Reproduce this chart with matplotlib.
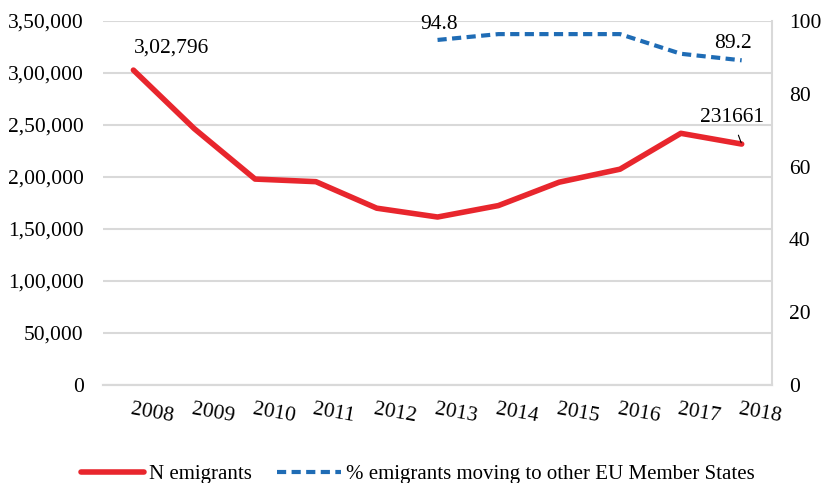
import matplotlib.pyplot as plt
import matplotlib.transforms as mtransforms
from matplotlib.ticker import FuncFormatter, MultipleLocator

plt.rcParams['font.family'] = ['Liberation Serif', 'DejaVu Serif']

years = ['2008', '2009', '2010', '2011', '2012', '2013', '2014', '2015', '2016', '2017', '2018']
emigrants = [302796, 246500, 198000, 195500, 170000, 161500, 172500, 195000, 207500, 242000, 231661]
eu_years = ['2013', '2014', '2015', '2016', '2017', '2018']
eu_share = [94.8, 96.4, 96.4, 96.4, 91.0, 89.2]

red = '#E8262D'
blue = '#1F6CB5'
grey = '#D9D9D9'
fs = 15.5


def indian(v, pos=None):
    # lakh style grouping: 3,50,000
    s = str(int(round(v)))
    if len(s) <= 3:
        return s
    head, tail = s[:-3], s[-3:]
    parts = []
    while len(head) > 2:
        parts.insert(0, head[-2:])
        head = head[:-2]
    if head:
        parts.insert(0, head)
    return ','.join(parts) + ',' + tail


fig = plt.figure(figsize=(8.24, 4.83), dpi=100)
ax = fig.add_axes([0.125, 0.203, 0.812, 0.7535])
ax2 = ax.twinx()

x = list(range(len(years)))
xe = [years.index(y) for y in eu_years]

ax.plot(x, emigrants, color=red, lw=4, solid_capstyle='round', label='N emigrants', zorder=3)
ax2.plot(xe, eu_share, color=blue, lw=3, ls=(0, (2.2, 1.3)), label='% emigrants moving to other EU Member States')

ax.set_xlim(-0.5, len(years) - 0.5)
ax.set_ylim(0, 350000)
ax.yaxis.set_major_locator(MultipleLocator(50000))
ax.yaxis.set_major_formatter(FuncFormatter(indian))
ax2.set_ylim(0, 100)
ax2.yaxis.set_major_locator(MultipleLocator(20))

ax.grid(axis='y', color=grey, lw=1.5)
ax.set_axisbelow(True)
for a in (ax, ax2):
    for s in ('top', 'left', 'right'):
        a.spines[s].set_visible(False)
    a.spines['bottom'].set_color(grey)
    a.spines['bottom'].set_linewidth(1.5)
ax2.spines['right'].set_visible(True)
ax2.spines['right'].set_color(grey)
ax2.spines['right'].set_linewidth(1.5)

ax.tick_params(axis='y', length=0, labelsize=fs, pad=14)
ax2.tick_params(axis='y', length=0, labelsize=fs, pad=12)
ax.set_xticks(x)
ax.set_xticklabels(years, rotation=-10, fontsize=fs)
ax.tick_params(axis='x', length=0, pad=11)
offset = mtransforms.ScaledTranslation(-0.01, 0, fig.dpi_scale_trans)
for t in ax.get_xticklabels():
    t.set_ha('left')
    t.set_rotation_mode('anchor')
    t.set_transform(t.get_transform() + offset)

ax.annotate(indian(emigrants[0]), (x[0], emigrants[0]), xytext=(0, 16), textcoords='offset points',
            ha='left', va='center', fontsize=fs)
ax.annotate(str(emigrants[-1]), (x[-1], emigrants[-1]), xytext=(-7, 19), textcoords='offset points',
            ha='center', va='center', fontsize=fs,
            arrowprops=dict(arrowstyle='-', color='black', lw=0.8, shrinkA=4, shrinkB=1))
ax2.annotate(f'{eu_share[0]}', (xe[0], eu_share[0]), xytext=(1, 11), textcoords='offset points',
             ha='center', va='center', fontsize=fs)
ax2.annotate(f'{eu_share[-1]}', (xe[-1], eu_share[-1]), xytext=(-6, 12), textcoords='offset points',
             ha='center', va='center', fontsize=fs)

h1, l1 = ax.get_legend_handles_labels()
h2, l2 = ax2.get_legend_handles_labels()
fig.legend(h1 + h2, l1 + l2, loc='center', bbox_to_anchor=(0.507, 0.018), ncol=2, frameon=False,
           fontsize=15, handlelength=3.05, handletextpad=0.25, columnspacing=1.2)

fig.savefig('out.png', dpi=100)
